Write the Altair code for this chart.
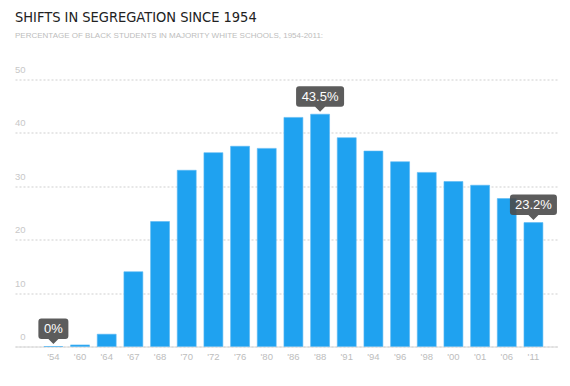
import altair as alt
import pandas as pd

years = ["'54", "'60", "'64", "'67", "'68", "'70", "'72", "'76", "'80", "'86",
         "'88", "'91", "'94", "'96", "'98", "'00", "'01", "'06", "'11"]
values = [0.0, 0.3, 2.3, 14.0, 23.4, 33.0, 36.3, 37.5, 37.1, 42.9,
          43.5, 39.1, 36.6, 34.6, 32.6, 30.9, 30.2, 27.7, 23.2]

callout_years = ["'54", "'88", "'11"]
callout_values = [0.0, 43.5, 23.2]
callout_labels = ["0%", "43.5%", "23.2%"]
callout_widths = [30, 48, 47]

TITLE = "SHIFTS IN SEGREGATION SINCE 1954"
SUBTITLE = "PERCENTAGE OF BLACK STUDENTS IN MAJORITY WHITE SCHOOLS, 1954-2011:"


def callout_path(w, top=-28.0, bottom=-7.5, tip=-2.5, r=3.0, pw=5.0):
    h = w / 2.0
    return (
        f"M {-h + r} {top} L {h - r} {top} Q {h} {top} {h} {top + r} "
        f"L {h} {bottom - r} Q {h} {bottom} {h - r} {bottom} "
        f"L {pw} {bottom} L 0 {tip} L {-pw} {bottom} "
        f"L {-h + r} {bottom} Q {-h} {bottom} {-h} {bottom - r} "
        f"L {-h} {top + r} Q {-h} {top} {-h + r} {top} Z"
    )


bars_df = pd.DataFrame({"year": years, "value": values})
call_df = pd.DataFrame({
    "year": callout_years,
    "value": callout_values,
    "label": callout_labels,
    "path": [callout_path(w) for w in callout_widths],
})

x_enc = alt.X(
    "year:N",
    sort=years,
    scale=alt.Scale(paddingInner=0.29, paddingOuter=0.825, align=0.657),
    axis=alt.Axis(
        title=None, labelAngle=0, ticks=False, domain=True, domainColor="#d8d8d8",
        labelColor="#bdbdbd", labelFontSize=9.5, labelPadding=5,
        labelFont="Liberation Sans", grid=False,
    ),
)
y_enc = alt.Y(
    "value:Q",
    scale=alt.Scale(domain=[0, 50], nice=False),
    axis=alt.Axis(
        title=None, values=[0, 10, 20, 30, 40, 50], ticks=False, domain=False,
        grid=True, gridColor="#cfcfcf", gridDash=[2, 2], gridWidth=1,
        labelAlign="right", labelBaseline="bottom", labelPadding=-10,
        labelOffset=-5, labelColor="#c8c8c8", labelFontSize=9.5,
        labelFont="Liberation Sans",
    ),
)

bars = alt.Chart(bars_df).mark_bar(
    color="#1fa2f0", stroke="#5ab9f3", strokeWidth=0.6
).encode(x=x_enc, y=y_enc)

call_base = alt.Chart(call_df).encode(x=x_enc, y=y_enc)

points = call_base.mark_point(
    filled=True, color="#4a4a4a", opacity=0.9, strokeWidth=0
).encode(
    shape=alt.Shape("path:N", scale=None, legend=None),
    size=alt.value(4),
)

texts = call_base.mark_text(
    color="white", fontSize=13, dy=-17.5, baseline="middle",
    font="Liberation Sans",
).encode(text="label:N")

chart = alt.layer(bars, points, texts).properties(
    width=543,
    height=267,
    autosize=alt.AutoSizeParams(type="none"),
    padding={"left": 7, "top": 71.5, "right": 0, "bottom": 30},
    title=alt.Title(
        TITLE, subtitle=SUBTITLE, anchor="start", frame="group",
        font="DejaVu Sans Condensed, Lato",
        fontSize=14.5, fontWeight="normal", color="#222222",
        subtitleFont="Liberation Sans", subtitleFontSize=8,
        subtitleColor="#bdbdbd", subtitlePadding=6, offset=24,
    ),
).configure(background="white", view=alt.ViewConfig(stroke=None))

chart.save("out.html", embed_options={"renderer": "svg", "actions": False})
